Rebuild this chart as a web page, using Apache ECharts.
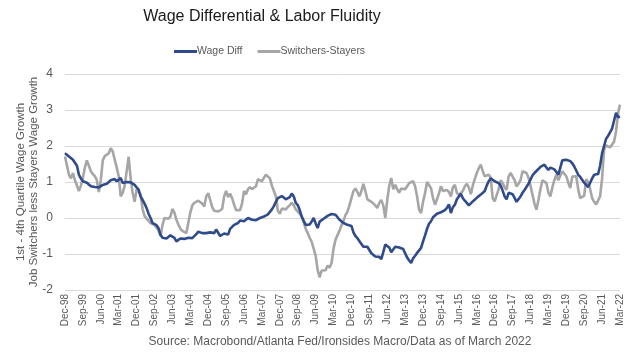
<!DOCTYPE html>
<html>
<head>
<meta charset="utf-8">
<script src="https://cdn.jsdelivr.net/npm/echarts@6/dist/echarts.min.js"></script>
<style>html,body{margin:0;padding:0;background:#fff}#c{width:631px;height:363px}</style>
</head>
<body>
<div id="c"></div>
<script>
// Monthly, Dec-98 .. Mar-22
var monthNames = ['Jan','Feb','Mar','Apr','May','Jun','Jul','Aug','Sep','Oct','Nov','Dec'];
var startYear = 1998, startMonth = 11, nMonths = 280;
var categories = [];
for (var k = 0; k < nMonths; k++) {
  var m = (startMonth + k) % 12, y = startYear + Math.floor((startMonth + k) / 12);
  categories.push(monthNames[m] + '-' + String(y % 100).padStart(2, '0'));
}
var yTicks = [-2, -1, 0, 1, 2, 3, 4];

var wageDiff = [
1.80,1.75,1.71,1.68,1.62,1.60,1.45,1.20,1.10,1.02,1.00,0.98,
0.99,0.88,0.83,0.86,0.88,0.85,0.88,0.92,0.93,0.95,0.99,1.05,
1.10,1.08,1.02,1.06,1.11,0.97,0.96,1.00,1.02,0.99,0.96,0.92,
0.85,0.79,0.60,0.50,0.40,0.28,0.12,0.00,-0.14,-0.17,-0.20,-0.28,
-0.46,-0.55,-0.56,-0.57,-0.53,-0.48,-0.46,-0.55,-0.65,-0.62,-0.57,-0.56,
-0.58,-0.56,-0.55,-0.57,-0.56,-0.52,-0.45,-0.38,-0.40,-0.42,-0.46,-0.42,
-0.37,-0.40,-0.41,-0.42,-0.32,-0.28,-0.50,-0.52,-0.43,-0.44,-0.46,-0.30,
-0.25,-0.19,-0.16,-0.14,-0.07,-0.05,-0.09,-0.04,0.00,-0.04,-0.05,-0.05,
-0.06,-0.04,0.00,0.01,0.04,0.07,0.10,0.17,0.24,0.33,0.45,0.55,
0.60,0.61,0.58,0.52,0.55,0.58,0.68,0.60,0.42,0.36,0.22,0.04,
-0.08,-0.19,-0.20,-0.18,-0.10,0.00,-0.15,-0.28,-0.10,-0.05,-0.02,0.00,
0.06,0.09,0.11,0.11,0.09,0.02,-0.05,-0.08,-0.14,-0.19,-0.19,-0.19,
-0.22,-0.40,-0.50,-0.56,-0.56,-0.72,-0.80,-0.83,-0.80,-0.80,-0.98,-1.03,
-1.07,-1.07,-1.08,-1.14,-0.95,-0.74,-0.78,-0.82,-0.95,-0.92,-0.80,-0.80,
-0.82,-0.83,-0.86,-0.90,-1.10,-1.18,-1.25,-1.12,-1.05,-0.97,-0.92,-0.83,
-0.65,-0.48,-0.30,-0.16,-0.09,0.02,0.06,0.12,0.14,0.16,0.18,0.22,
0.28,0.38,0.14,0.30,0.37,0.52,0.60,0.67,0.55,0.48,0.42,0.35,
0.37,0.46,0.51,0.56,0.60,0.65,0.68,0.75,0.90,1.02,1.10,1.14,
1.02,0.97,0.97,0.90,0.76,0.60,0.52,0.70,0.72,0.66,0.56,0.45,
0.45,0.60,0.70,0.78,0.83,0.95,1.00,1.18,1.25,1.30,1.36,1.42,
1.45,1.48,1.40,1.34,1.40,1.43,1.35,1.28,1.20,1.40,1.60,1.62,
1.62,1.62,1.58,1.52,1.43,1.32,1.20,1.14,1.10,0.98,0.92,0.86,
0.84,1.10,1.20,1.16,1.22,1.45,1.80,2.00,2.20,2.28,2.38,2.48,
2.70,2.92,2.80,2.82
];

var switchersStayers = [
1.71,1.45,1.20,1.10,1.25,1.05,1.00,0.75,0.90,1.12,1.40,1.60,
1.45,1.30,1.22,1.16,1.05,0.72,1.05,1.60,1.72,1.75,1.80,1.94,
1.85,1.62,1.40,1.16,0.60,0.70,0.90,1.30,1.70,1.10,0.70,0.45,
0.80,0.75,0.65,0.25,0.05,0.00,-0.08,-0.14,-0.17,-0.19,-0.19,-0.35,
-0.50,-0.20,0.00,-0.05,-0.02,0.04,0.25,0.15,-0.05,-0.18,-0.30,-0.36,
-0.40,-0.42,-0.38,0.15,0.35,0.42,0.45,0.48,0.50,0.40,0.32,0.60,
0.69,0.50,0.30,0.20,0.18,0.18,0.20,0.25,0.60,0.75,0.58,0.68,
0.55,0.37,0.22,0.18,0.22,0.40,0.75,0.66,0.80,0.86,0.80,0.82,
0.88,1.08,1.12,1.02,1.12,1.20,1.17,1.10,0.90,0.75,0.60,0.20,
0.12,0.26,0.25,0.24,0.30,0.36,0.42,0.35,0.24,0.20,0.12,0.04,
-0.12,-0.30,-0.42,-0.55,-0.66,-0.85,-1.05,-1.44,-1.65,-1.46,-1.46,-1.45,
-1.32,-1.38,-1.25,-0.85,-0.60,-0.55,-0.35,-0.20,-0.08,0.08,0.18,0.35,
0.55,0.75,0.82,0.72,0.60,0.75,0.95,0.75,0.52,0.48,0.45,0.42,
0.35,0.28,0.42,0.50,0.35,0.00,0.50,0.90,1.11,0.80,0.92,0.80,
0.70,0.82,0.86,0.80,0.88,0.97,1.00,1.02,0.88,0.60,0.23,0.14,
0.45,0.69,1.00,1.05,0.83,0.55,0.37,0.52,0.68,0.88,0.75,0.70,
0.78,0.72,0.60,0.85,0.92,0.70,0.64,0.60,0.75,0.88,0.95,0.85,
0.66,0.90,1.08,1.25,1.38,1.48,1.30,1.16,1.18,1.20,1.12,0.55,
0.46,0.46,0.80,1.05,0.97,0.85,0.78,1.15,1.25,1.20,1.05,0.88,
0.95,1.05,1.30,1.32,1.25,1.12,0.90,0.65,0.40,0.23,0.50,0.80,
1.05,1.08,0.97,0.70,0.60,0.85,1.05,1.20,1.05,1.05,1.30,1.28,
1.16,0.98,0.83,1.15,1.20,1.16,0.80,0.55,0.52,0.62,1.08,0.98,
0.80,0.55,0.45,0.38,0.33,0.60,1.10,1.90,2.02,2.04,1.96,1.98,
2.12,2.40,2.90,3.15
];

var chart = echarts.init(document.getElementById('c'));
var txt = '#595959';
var font = '"Liberation Sans", Arial, sans-serif';
chart.setOption({
  animation: false,
  backgroundColor: '#ffffff',
  textStyle: { fontFamily: font },
  graphic: [
    { type: 'text', x: 262, y: 9, style: { text: 'Wage Differential & Labor Fluidity', fill: '#1a1a1a', font: '16px ' + font, textAlign: 'center', textVerticalAlign: 'top' } },
    { type: 'text', x: 340, y: 336, style: { text: 'Source: Macrobond/Atlanta Fed/Ironsides Macro/Data as of March 2022', fill: txt, font: '12px ' + font, textAlign: 'center', textVerticalAlign: 'top' } },
    { type: 'text', x: 27, y: 182, rotation: Math.PI / 2,
      style: { text: '1st - 4th Quartile Wage Growth\nJob Switchers less Stayers Wage Growth', fill: txt, font: '11.5px ' + font, lineHeight: 13, textAlign: 'center', textVerticalAlign: 'middle' } }
  ],
  legend: {
    left: 169, top: 41,
    itemWidth: 23, itemHeight: 3, itemGap: 15,
    icon: 'rect',
    textStyle: { color: txt, fontSize: 10.5, padding: [0, 0, 0, -5] },
    data: ['Wage Diff', 'Switchers-Stayers']
  },
  grid: { left: 65, right: 11, top: 74, bottom: 73, containLabel: false },
  xAxis: {
    type: 'category',
    data: categories,
    boundaryGap: false,
    axisLine: { show: true, lineStyle: { color: '#d9d9d9' } },
    axisTick: { show: false },
    axisLabel: { interval: 8, rotate: 90, color: txt, fontSize: 10, margin: 4 },
    splitLine: { show: false }
  },
  yAxis: {
    type: 'value',
    min: yTicks[0], max: yTicks[yTicks.length - 1], interval: 1,
    axisLine: { show: false },
    axisTick: { show: false },
    axisLabel: { color: txt, fontSize: 12, margin: 12 },
    splitLine: { lineStyle: { color: '#d9d9d9', width: 1 } }
  },
  series: [
    { name: 'Wage Diff', type: 'line', data: wageDiff, showSymbol: false, z: 3,
      lineStyle: { color: '#2f4b8b', width: 2.6 }, itemStyle: { color: '#2f4b8b' } },
    { name: 'Switchers-Stayers', type: 'line', data: switchersStayers, showSymbol: false, z: 2,
      lineStyle: { color: '#a6a6a6', width: 2.6 }, itemStyle: { color: '#a6a6a6' } }
  ]
});
</script>
</body>
</html>
